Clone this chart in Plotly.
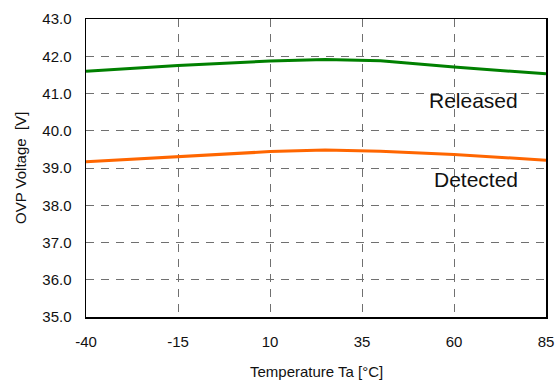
import plotly.graph_objects as go

temps = [-40, -15, 10, 25, 40, 60, 85]
released = [41.60, 41.75, 41.87, 41.91, 41.88, 41.71, 41.53]
detected = [39.17, 39.31, 39.44, 39.48, 39.45, 39.36, 39.21]
x_ticks = [-40, -15, 10, 35, 60, 85]
y_ticks = [35, 36, 37, 38, 39, 40, 41, 42, 43]

fig = go.Figure()
fig.add_trace(go.Scatter(x=temps, y=released, mode="lines",
                         line=dict(color="#008000", width=3), name="Released"))
fig.add_trace(go.Scatter(x=temps, y=detected, mode="lines",
                         line=dict(color="#FF6600", width=3), name="Detected"))

fig.add_annotation(x=78, y=40.82, text="Released", showarrow=False, xanchor="right",
                   yanchor="middle", font=dict(size=21, color="#111"))
fig.add_annotation(x=78, y=38.69, text="Detected", showarrow=False, xanchor="right",
                   yanchor="middle", font=dict(size=21, color="#111"))

# axis titles
fig.add_annotation(x=0.5, y=0, xref="paper", yref="paper", text="Temperature Ta [°C]",
                   showarrow=False, xanchor="center", yanchor="middle", yshift=-54,
                   font=dict(size=15, color="#111"))
fig.add_annotation(x=0, y=0.5, xref="paper", yref="paper", text="OVP Voltage  [V]",
                   showarrow=False, xanchor="center", yanchor="middle", xshift=-66,
                   textangle=-90, font=dict(size=15, color="#111"))

fig.update_layout(
    width=557, height=380,
    margin=dict(l=86, r=11, t=19, b=63),
    paper_bgcolor="white", plot_bgcolor="white",
    showlegend=False, hovermode=False,
    font=dict(family="Liberation Sans, Arial, sans-serif", color="#111"),
)
fig.update_xaxes(range=[-40, 85], tickvals=x_ticks, ticktext=[str(v) for v in x_ticks],
                 showgrid=True, gridcolor="#707070", griddash="8px,7px", gridwidth=1,
                 showline=True, linecolor="black", linewidth=1.5, mirror=True,
                 ticks="outside", ticklen=0, ticklabelstandoff=10,
                 tickfont=dict(size=15), zeroline=False, automargin=False)
fig.update_yaxes(range=[35, 43], tickvals=y_ticks, ticktext=[f"{v:.1f}" for v in y_ticks],
                 showgrid=True, gridcolor="#707070", griddash="8px,7px", gridwidth=1,
                 showline=True, linecolor="black", linewidth=1.5, mirror=True,
                 ticks="outside", ticklen=0, ticklabelstandoff=10,
                 tickfont=dict(size=15), zeroline=False, automargin=False)

# remove the default 8px page margin so the figure sits at the window's corner
fig.write_html("out.html", config={"displayModeBar": False, "staticPlot": True},
               post_script="document.body.style.margin='0';document.body.style.overflow='hidden';")
